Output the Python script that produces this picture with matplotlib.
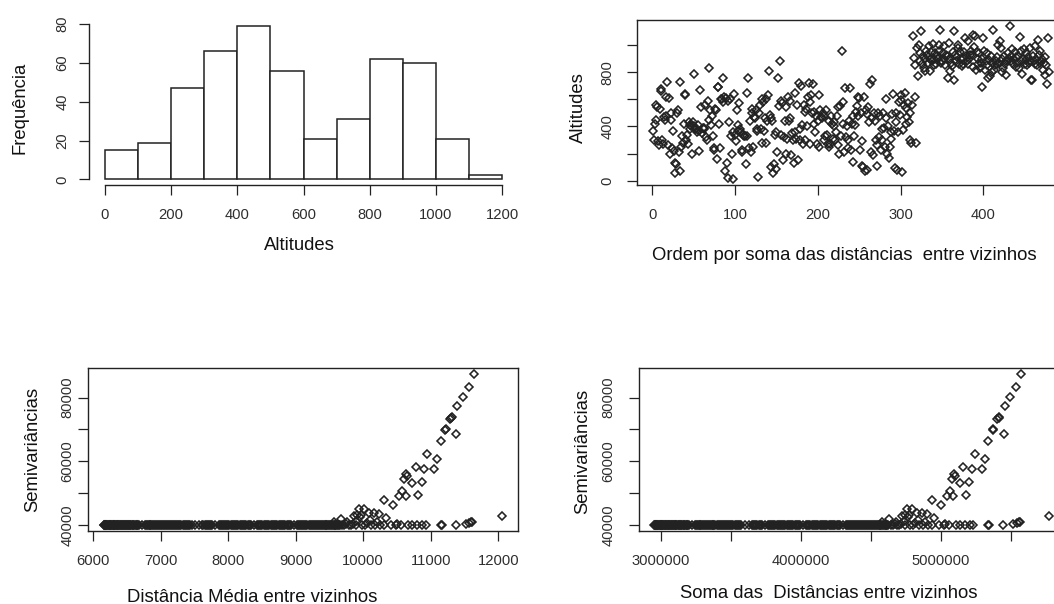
import numpy as np
import matplotlib
matplotlib.use("Agg")
import matplotlib.pyplot as plt

plt.rcParams['font.family'] = ['Liberation Sans', 'DejaVu Sans']

W, H = 1054, 604

# --- histograma das altitudes
classes = [0, 100, 200, 300, 400, 500, 600, 700, 800, 900, 1000, 1100, 1200]
frequencias = [15, 19, 47, 66, 79, 56, 21, 31, 62, 60, 21, 2]

# --- altitudes na ordem da soma das distancias (indice 1..479)
altitudes = [
    370, 300, 420, 560, 450, 540, 290, 260, 530, 660, 680, 300, 270, 470, 450, 620, 480, 725, 260, 610,
    200, 500, 450, 240, 370, 220, 60, 130, 120, 500, 520, 210, 70, 725, 250, 330, 280, 420, 640, 630,
    300, 340, 270, 430, 410, 380, 400, 200, 430, 790, 400, 380, 380, 360, 410, 370, 220, 670, 540, 350,
    390, 390, 380, 560, 320, 300, 590, 830, 450, 520, 410, 480, 330, 240, 230, 530, 520, 160, 690, 690,
    420, 240, 600, 600, 580, 760, 620, 70, 610, 130, 20, 590, 430, 600, 330, 200, 360, 10, 640, 340,
    290, 520, 410, 370, 570, 380, 360, 230, 215, 340, 330, 330, 120, 330, 646, 757, 240, 440, 210, 500,
    530, 250, 470, 460, 520, 380, 370, 30, 500, 560, 380, 280, 600, 580, 370, 460, 600, 275, 440, 634,
    806, 485, 460, 100, 440, 60, 120, 340, 90, 360, 210, 757, 550, 880, 590, 340, 570, 150, 320, 440,
    540, 200, 310, 620, 440, 590, 460, 190, 350, 300, 130, 650, 360, 310, 560, 150, 720, 380, 300, 700,
    410, 270, 560, 510, 300, 530, 400, 620, 720, 270, 580, 630, 500, 712, 420, 510, 360, 480, 270, 440,
    630, 250, 520, 470, 460, 500, 300, 480, 330, 520, 340, 270, 440, 250, 270, 480, 420, 310, 430, 400,
    300, 360, 480, 540, 260, 200, 550, 330, 958, 580, 420, 210, 687, 320, 400, 240, 300, 440, 687, 230,
    420, 480, 140, 330, 410, 510, 550, 620, 480, 610, 230, 500, 290, 110, 100, 620, 70, 520, 490, 80,
    540, 430, 715, 210, 740, 460, 190, 500, 440, 300, 110, 260, 500, 320, 480, 230, 380, 300, 500, 390,
    250, 600, 460, 200, 400, 170, 250, 360, 310, 490, 640, 370, 95, 500, 436, 78, 362, 584, 485, 634,
    597, 66, 375, 560, 646, 420, 535, 470, 572, 436, 300, 498, 276, 560, 1065, 905, 856, 620, 280, 979,
    770, 1000, 880, 940, 1102, 860, 920, 831, 806, 900, 960, 930, 870, 992, 900, 806, 950, 880, 1010, 856,
    900, 940, 860, 917, 900, 1004, 960, 1115, 870, 880, 940, 990, 900, 850, 930, 917, 757, 1016, 900, 806,
    870, 843, 950, 1102, 745, 930, 880, 910, 1000, 979, 860, 950, 900, 843, 905, 860, 950, 1053, 920, 880,
    860, 1028, 900, 930, 960, 930, 840, 1078, 985, 1070, 820, 950, 860, 900, 940, 830, 870, 690, 900, 1050,
    960, 820, 880, 940, 850, 760, 890, 770, 920, 870, 800, 1108, 820, 850, 880, 910, 860, 1000, 870, 1030,
    980, 800, 900, 830, 920, 860, 880, 780, 890, 940, 900, 1140, 880, 920, 970, 860, 900, 950, 840, 910,
    870, 920, 830, 1058, 960, 880, 790, 900, 970, 860, 940, 890, 850, 910, 870, 980, 880, 745, 745, 920,
    880, 990, 860, 900, 850, 1040, 930, 870, 960, 880, 900, 820, 870, 910, 780, 850, 710, 1050, 800,
]

# --- semivariancias x distancia media: faixa densa em 40000
semiv_base = 40000
media_faixa = [
    6160, 6166, 6174, 6181, 6190, 6197, 6205, 6213, 6222, 6229, 6238, 6246, 6254, 6263, 6271, 6280, 6288, 6297, 6305, 6314,
    6323, 6331, 6340, 6349, 6358, 6367, 6376, 6386, 6395, 6404, 6414, 6423, 6433, 6442, 6452, 6462, 6471, 6481, 6491, 6501,
    6512, 6522, 6532, 6543, 6553, 6564, 6575, 6586, 6597, 6608, 6620, 6632, 6644, 6656, 6668, 6680, 6726, 6772, 6784, 6797,
    6810, 6823, 6836, 6849, 6862, 6876, 6889, 6903, 6917, 6930, 6944, 6958, 6972, 6987, 7001, 7015, 7030, 7044, 7059, 7074,
    7089, 7104, 7119, 7134, 7149, 7165, 7180, 7196, 7212, 7228, 7244, 7260, 7276, 7292, 7309, 7325, 7342, 7358, 7375, 7392,
    7408, 7425, 7442, 7460, 7516, 7570, 7618, 7634, 7650, 7667, 7683, 7700, 7717, 7734, 7751, 7766, 7812, 7858, 7873, 7889,
    7905, 7921, 7937, 7953, 7969, 7986, 8002, 8018, 8035, 8051, 8068, 8085, 8101, 8118, 8135, 8152, 8169, 8186, 8203, 8220,
    8237, 8254, 8271, 8288, 8305, 8322, 8335, 8380, 8425, 8440, 8457, 8474, 8491, 8508, 8525, 8542, 8559, 8576, 8593, 8610,
    8627, 8644, 8661, 8678, 8695, 8712, 8729, 8746, 8763, 8780, 8797, 8814, 8831, 8848, 8865, 8882, 8899, 8916, 8928, 8972,
    9016, 9030, 9046, 9062, 9078, 9094, 9110, 9126, 9142, 9158, 9174, 9190, 9206, 9222, 9238, 9253, 9268, 9283, 9298, 9313,
    9328, 9343, 9357, 9372, 9386, 9400, 9414, 9428, 9442, 9456, 9470, 9484, 9497, 9511, 9524, 9537, 9550, 9563, 9576, 9589,
    9601, 9613, 9625, 9637, 9649,
]
# pontos dispersos (distancia media, semivariancia)
media_disp = [
    9560, 9664, 9690, 9720, 9750, 9763, 9790, 9820, 9850, 9861, 9886, 9900, 9910, 9935, 9950, 9960,
    9975, 10010, 10030, 10050, 10084, 10100, 10110, 10158, 10170, 10200, 10232, 10250, 10306, 10310,
    10330, 10405, 10439, 10479, 10500, 10528, 10553, 10578, 10610, 10627, 10637, 10652, 10660, 10726,
    10726, 10775, 10800, 10815, 10864, 10874, 10898, 10923, 10948, 11047, 11096, 11145, 11145, 11160,
    11210, 11220, 11284, 11300, 11308, 11368, 11377, 11392, 11476, 11516, 11565, 11570, 11600, 11615,
    11639, 12049,
]
semiv_disp = [
    40800, 41780, 40000, 40000, 40300, 41050, 40000, 40000, 40200, 42830, 41260, 40000, 43000, 44930, 42500, 43250,
    40000, 44930, 40000, 40600, 43880, 41500, 40000, 43600, 40000, 40800, 43350, 40000, 47750, 40000,
    42300, 40000, 46180, 40000, 40300, 49120, 40000, 50690, 54400, 49120, 55900, 55300, 40000, 53310,
    40000, 58230, 40000, 49330, 53620, 40000, 57500, 40000, 62220, 57500, 60650, 66200, 40000, 40100,
    69900, 70080, 73220, 73500, 73740, 40000, 68500, 77410, 80030, 40200, 83180, 40700, 40900, 40950,
    87370, 42830,
]
# soma das distancias = distancia media x numero de vizinhos
n_vizinhos = 479

cor = '#222222'
cor_tick = '#2e2e2e'


def eixo(l, t, r, b):
    return fig.add_axes([l / W, 1 - b / H, (r - l) / W, (b - t) / H])


def lim_r(v):
    lo, hi = min(v), max(v)
    d = 0.04 * (hi - lo)
    return lo - d, hi + d


def estilo(ax, padx=8.6, pady=7.0, box=True):
    ax.tick_params(direction='out', length=7.5, width=0.9, color=cor, labelsize=10.6,
                   labelcolor=cor_tick)
    ax.tick_params(axis='x', pad=padx)
    ax.tick_params(axis='y', labelrotation=90, pad=pady)
    plt.setp(ax.get_yticklabels(), va='center')
    for s in ax.spines.values():
        s.set_color(cor)
        s.set_linewidth(1.0)
    if not box:
        ax.spines['top'].set_visible(False)
        ax.spines['right'].set_visible(False)


def texto(x, y, s, rot=0):
    fig.text(x / W, 1 - y / H, s, ha='center', va='center', rotation=rot,
             fontsize=13.3, color='#111111')


fig = plt.figure(figsize=(W / 100, H / 100), dpi=100)

# histograma
ax1 = eixo(89, 20, 518, 185.5)
ax1.bar(classes[:-1], frequencias, width=100, align='edge', facecolor='white',
        edgecolor=cor, linewidth=1.1)
ax1.set_xlim(lim_r(classes))
ax1.set_ylim(lim_r([0] + frequencias))
ax1.set_xticks(range(0, 1201, 200))
ax1.set_yticks(range(0, 81, 20))
ax1.spines['bottom'].set_bounds(0, 1200)
ax1.spines['left'].set_bounds(0, 80)
estilo(ax1, pady=6.8, box=False)
texto(20, 108, 'Frequência', 90)
texto(299, 246, 'Altitudes')

mk = dict(linestyle='none', marker='D', ms=4.3, mfc='none', mec=cor, mew=1.15)

# altitudes ordenadas
ax2 = eixo(637.3, 20, 1064.5, 185.5)
idx = np.arange(1, len(altitudes) + 1)
ax2.plot(idx, altitudes, **mk)
ax2.set_xlim(lim_r(idx))
ax2.set_ylim(lim_r(altitudes))
ax2.set_xticks(range(0, 401, 100))
ax2.set_yticks(range(0, 1001, 200))
ax2.set_yticklabels(['0', '', '400', '', '800', ''])
estilo(ax2, pady=9.0)
texto(578, 108, 'Altitudes', 90)
texto(844, 255, 'Ordem por soma das distâncias  entre vizinhos')

# semivariancias x distancia media
todas_media = media_faixa + media_disp
todas_semiv = [semiv_base] * len(media_faixa) + semiv_disp
ax3 = eixo(88, 368, 517.5, 531)
ax3.plot(media_faixa, [semiv_base] * len(media_faixa), **mk)
ax3.plot(media_disp, semiv_disp, **mk)
ax3.set_xlim(lim_r(todas_media))
ax3.set_ylim(lim_r(todas_semiv))
ax3.set_xticks(range(6000, 12001, 1000))
ax3.set_yticks(range(40000, 80001, 10000))
ax3.set_yticklabels(['40000', '', '60000', '', '80000'])
estilo(ax3, padx=9.2, pady=2.4)
texto(33, 449, 'Semivariâncias', 90)
texto(252, 597, 'Distância Média entre vizinhos')

# semivariancias x soma das distancias
soma_faixa = np.array(media_faixa) * n_vizinhos
soma_disp = np.array(media_disp) * n_vizinhos
ax4 = eixo(638.5, 368, 1064.5, 531)
ax4.plot(soma_faixa, [semiv_base] * len(media_faixa), **mk)
ax4.plot(soma_disp, semiv_disp, **mk)
ax4.set_xlim(lim_r(list(soma_faixa) + list(soma_disp)))
ax4.set_ylim(lim_r(todas_semiv))
ax4.set_xticks(range(3000000, 5500001, 500000))
ax4.set_xticklabels(['3000000', '', '4000000', '', '5000000', ''])
ax4.set_yticks(range(40000, 80001, 10000))
ax4.set_yticklabels(['40000', '', '60000', '', '80000'])
estilo(ax4, padx=9.2, pady=9.0)
texto(583, 451, 'Semivariâncias', 90)
texto(829, 593, 'Soma das  Distâncias entre vizinhos')

fig.savefig('out.png', dpi=100)
